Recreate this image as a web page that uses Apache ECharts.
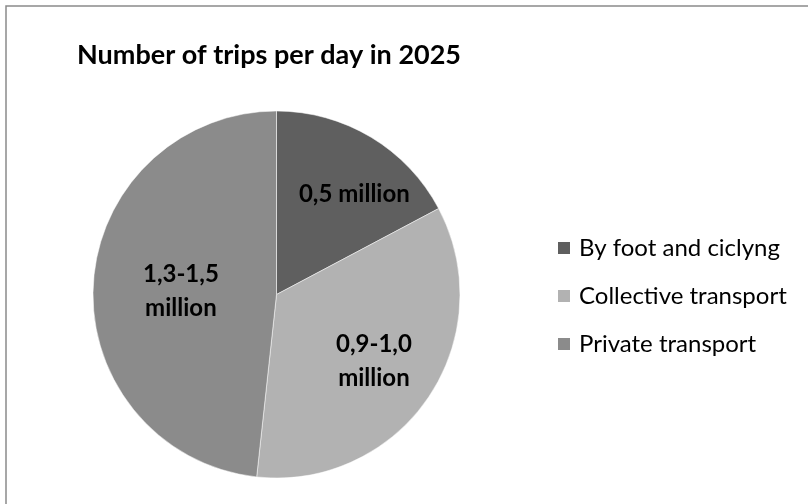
<!DOCTYPE html>
<html><head><meta charset="utf-8">
<script src="https://cdn.jsdelivr.net/npm/echarts@6/dist/echarts.min.js"></script>
<style>html,body{margin:0;padding:0;background:#fff}#c{width:808px;height:504px}</style>
</head><body><div id="c"></div>
<script>
const categories = ['By foot and ciclyng', 'Collective transport', 'Private transport'];
const values = [0.5, 1.0, 1.4];
const sliceLabels = ['0,5 million', '0,9-1,0\nmillion', '1,3-1,5\nmillion'];
const colors = ['#5f5f5f', '#b2b2b2', '#8b8b8b'];
const labelShift = [[29, -19], [19, 14], [-1, 2]];
const FONT = 'Lato';

const chart = echarts.init(document.getElementById('c'), null, {renderer: 'canvas'});
chart.setOption({
  animation: false,
  backgroundColor: '#fff',
  color: colors,
  title: {
    text: 'Number of trips per day in 2025',
    left: 72, top: 37,
    textStyle: {fontFamily: FONT, fontWeight: 'bold', fontSize: 27, color: '#000'}
  },
  legend: {
    orient: 'vertical', left: 551, top: 231, itemGap: 24,
    itemWidth: 14, itemHeight: 14, icon: 'rect',
    textStyle: {fontFamily: FONT, fontSize: 24, color: '#000', padding: [0, 0, 0, 3]},
    data: categories
  },
  graphic: [{type: 'rect', shape: {x: 6, y: 6, width: 900, height: 600},
    style: {fill: 'none', stroke: '#8a8a8a', lineWidth: 1.5}, silent: true}],
  series: [{
    type: 'pie', center: [276.5, 294.5], radius: 183.5, startAngle: 90, clockwise: true,
    itemStyle: {borderColor: '#fff', borderWidth: 0.5},
    label: {position: 'inside', fontFamily: FONT, fontWeight: 'bold', fontSize: 24, color: '#000', lineHeight: 34,
      formatter: p => sliceLabels[p.dataIndex]},
    labelLayout: p => ({dx: labelShift[p.dataIndex][0], dy: labelShift[p.dataIndex][1]}),
    data: categories.map((n, i) => ({name: n, value: values[i]}))
  }]
});
</script></body></html>
